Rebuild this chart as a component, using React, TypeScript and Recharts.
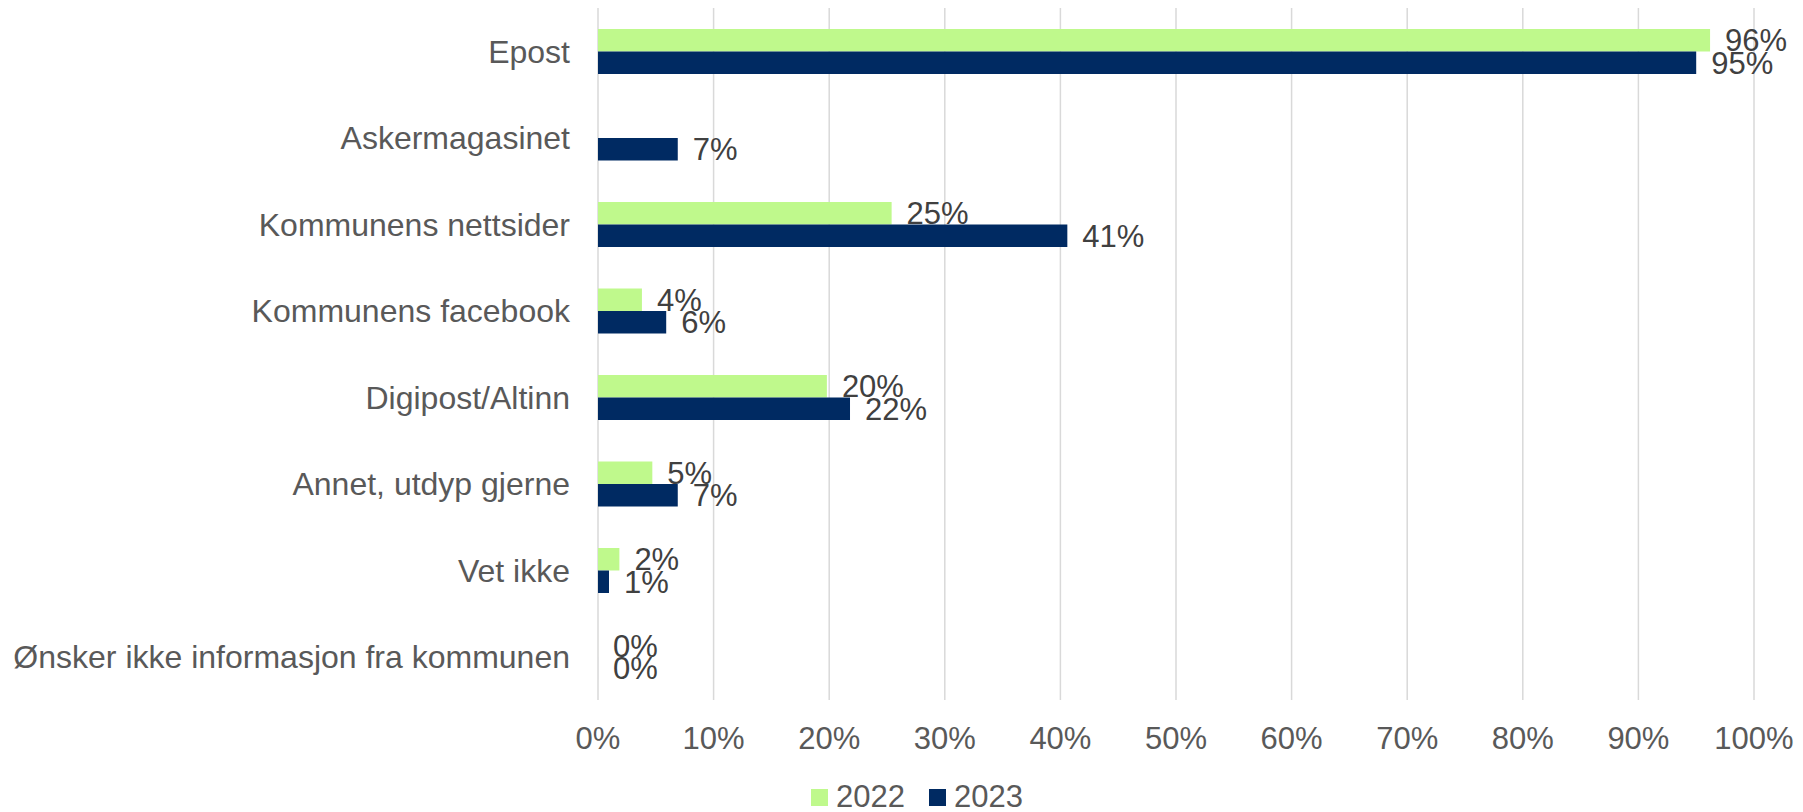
import React from 'react';
import { BarChart, Bar, XAxis, YAxis, CartesianGrid, Legend, LabelList } from 'recharts';

// Categories and values (percent)
const categories = [
  'Epost',
  'Askermagasinet',
  'Kommunens nettsider',
  'Kommunens facebook',
  'Digipost/Altinn',
  'Annet, utdyp gjerne',
  'Vet ikke',
  'Ønsker ikke informasjon fra kommunen',
];
const values2022: (number | null)[] = [96.2, null, 25.4, 3.8, 19.8, 4.7, 1.85, 0];
const values2023: (number | null)[] = [95.0, 6.9, 40.6, 5.9, 21.8, 6.9, 0.95, 0];
const xTicks = [0, 10, 20, 30, 40, 50, 60, 70, 80, 90, 100];

const COLOR_2022 = '#BFF98C';
const COLOR_2023 = '#002A62';
const FONT = '"Liberation Sans", Arial, sans-serif';

const data = categories.map((name, i) => ({
  name,
  y2022: values2022[i],
  y2023: values2023[i],
}));

const pct = (v: any) => (v === null || v === undefined ? '' : `${Math.round(Number(v))}%`);

// zero values still need a (invisible) rect so that the "0%" label is drawn
const zeroSize = (v: any) => (v === 0 ? 0.01 : 0);

// Legend drawn by hand to match the Excel look (square swatches)
const ChartLegend = () => {
  const items = [
    { label: '2022', color: COLOR_2022 },
    { label: '2023', color: COLOR_2023 },
  ];
  return (
    <div
      style={{
        display: 'flex',
        alignItems: 'center',
        marginTop: 32,
        marginLeft: 811,
        height: 30,
        fontFamily: FONT,
        fontSize: 31,
        color: '#595959',
      }}
    >
      {items.map((it, idx) => (
        <div key={it.label} style={{ display: 'flex', alignItems: 'center', marginRight: idx === 0 ? 24 : 0 }}>
          <span style={{ width: 17, height: 17, background: it.color, display: 'inline-block', marginRight: 8 }} />
          <span style={{ lineHeight: '30px' }}>{it.label}</span>
        </div>
      ))}
    </div>
  );
};

const App: React.FC = () => {
  return (
    <div style={{ position: 'absolute', left: 0, top: 0, background: '#fff' }}>
      <BarChart
        width={1803}
        height={812}
        data={data}
        layout="vertical"
        margin={{ top: 8, right: 49, left: 0, bottom: 0 }}
        barGap={0}
      >
        <CartesianGrid horizontal={false} stroke="#D9D9D9" strokeWidth={1.5} />
        <XAxis
          type="number"
          domain={[0, 100]}
          ticks={xTicks}
          tickFormatter={(v) => `${v}%`}
          axisLine={false}
          tickLine={false}
          tickSize={0}
          tickMargin={27}
          height={50}
          interval={0}
          tick={{ fontSize: 31, fill: '#595959', fontFamily: FONT }}
        />
        <YAxis
          type="category"
          dataKey="name"
          width={598}
          axisLine={false}
          tickLine={false}
          tickSize={0}
          tickMargin={28}
          interval={0}
          tick={{ fontSize: 32, fill: '#595959', fontFamily: FONT }}
        />
        <Legend verticalAlign="bottom" height={62} content={() => <ChartLegend />} />
        <Bar dataKey="y2022" name="2022" fill={COLOR_2022} barSize={22.5} minPointSize={zeroSize} isAnimationActive={false}>
          <LabelList
            dataKey="y2022"
            position="right"
            offset={15}
            formatter={pct}
            style={{ fontSize: 31, fill: '#404040', fontFamily: FONT }}
          />
        </Bar>
        <Bar dataKey="y2023" name="2023" fill={COLOR_2023} barSize={22.5} minPointSize={zeroSize} isAnimationActive={false}>
          <LabelList
            dataKey="y2023"
            position="right"
            offset={15}
            formatter={pct}
            style={{ fontSize: 31, fill: '#404040', fontFamily: FONT }}
          />
        </Bar>
      </BarChart>
    </div>
  );
};

export default App;
